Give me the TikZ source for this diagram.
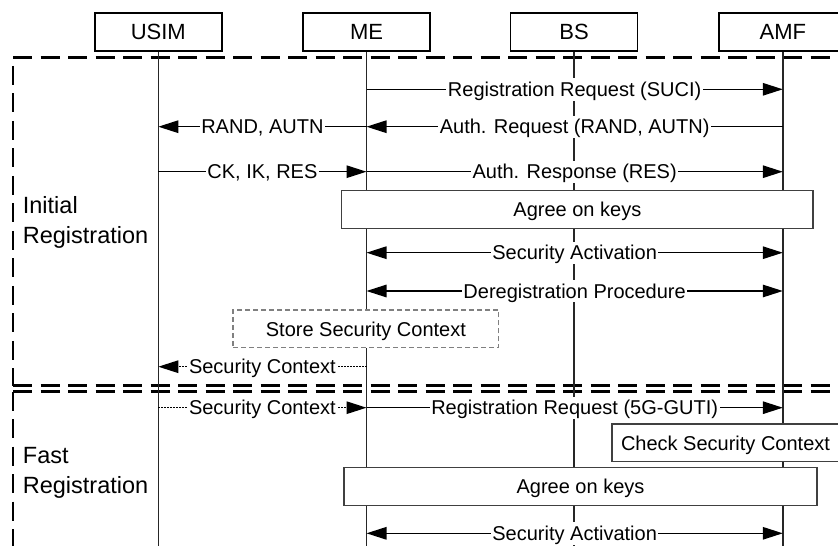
\documentclass[tikz,border=0pt]{standalone}
\usepackage{fontspec}
\setmainfont{Liberation Sans}
\usetikzlibrary{arrows.meta}
\begin{document}
\begin{tikzpicture}[x=1pt,y=-1pt,
  actor/.style={draw, line width=1.8pt, minimum width=127pt, minimum height=38pt, inner sep=0pt, fill=white, text height=15.8pt, text depth=0pt, font=\fontsize{22}{26}\selectfont},
  life/.style={line width=1.4pt, draw=black!85},
  region/.style={line width=2.5pt, dash pattern=on 19pt off 8.5pt},
  msg/.style={line width=1.3pt, -{Triangle[length=20pt,width=12.5pt]}},
  dmsg/.style={line width=1.3pt, {Triangle[length=20pt,width=12.5pt]}-{Triangle[length=20pt,width=12.5pt]}},
  dotmsg/.style={msg, dash pattern=on 1.6pt off 1.4pt},
  lbl/.style={fill=white, inner xsep=1.5pt, inner ysep=4pt, text height=14.4pt, text depth=0pt, font=\fontsize{20}{24}\selectfont},
  stepbox/.style={draw=black!75, line width=1.2pt, fill=white, inner sep=0pt, text height=14.4pt, text depth=0pt, font=\fontsize{20}{24}\selectfont},
  storebox/.style={stepbox, draw=black!50, dash pattern=on 5pt off 3pt},
  reglbl/.style={align=left, anchor=north west, inner sep=0pt, font=\fontsize{23.5}{30}\selectfont}
]
\useasboundingbox (0,0) rectangle (838,546);
\clip (0,0) rectangle (838,546);

% regions
\draw[region] (13,57.3) -- (870,57.3);
\draw[region, dash phase=19pt] (13,57.3) -- (13,385.7);
\draw[region] (13,385.7) -- (870,385.7);
\draw[region] (13,391.7) -- (870,391.7);
\draw[region] (13,391.7) -- (13,580);
\node[reglbl] (lblinit) at (22.7,196.7) {Initial\\Registration};
\node[reglbl] (lblfast) at (22.7,446.7) {Fast\\Registration};

% actors
\node[actor] (usim) at (158.3,32) {USIM};
\node[actor] (me) at (366.5,32) {ME};
\node[actor] (bs) at (574,32) {BS};
\node[actor] (amf) at (782.8,32) {AMF};

\coordinate (usimE) at (158.3,560);
\coordinate (meE) at (366.5,560);
\coordinate (bsE) at (574,560);
\coordinate (amfE) at (782.8,560);
\draw[life] (usim) -- (usimE);
\draw[life] (me) -- (meE);
\draw[life] (bs) -- (bsE);
\draw[life] (amf) -- (amfE);

% message anchor points
\coordinate (me1) at (366.5,89.3);  \coordinate (amf1) at (782.8,89.3);
\coordinate (usim2) at (158.3,126.7); \coordinate (me2) at (366.5,126.7); \coordinate (amf2) at (782.8,126.7);
\coordinate (usim3) at (158.3,171.7); \coordinate (me3) at (366.5,171.7); \coordinate (amf3) at (782.8,171.7);
\coordinate (me4) at (366.5,252.7); \coordinate (amf4) at (782.8,252.7);
\coordinate (me5) at (366.5,291); \coordinate (amf5) at (782.8,291);
\coordinate (usim6) at (158.3,366.7); \coordinate (me6) at (366.5,366.7);
\coordinate (usim7) at (158.3,407.7); \coordinate (me7) at (366.5,407.7); \coordinate (amf7) at (782.8,407.7);
\coordinate (me8) at (366.5,533.3); \coordinate (amf8) at (782.8,533.3);

% initial registration
\draw[msg] (me1) -- node[lbl] (t1) {Registration Request (SUCI)} (amf1);
\draw[msg] (amf2) -- node[lbl] (t2) {Auth. Request (RAND, AUTN)} (me2);
\draw[msg] (me2) -- node[lbl] (t3) {RAND, AUTN} (usim2);
\draw[msg] (usim3) -- node[lbl] (t4) {CK, IK, RES} (me3);
\draw[msg] (me3) -- node[lbl] (t5) {Auth. Response (RES)} (amf3);
\node[stepbox, minimum width=471.3pt, minimum height=37.6pt] (agree1) at (577.4,209.5) {Agree on keys};
\draw[dmsg] (me4) -- node[lbl] (t6) {Security Activation} (amf4);
\draw[dmsg] (me5) -- node[lbl] (t7) {Deregistration Procedure} (amf5);
\node[storebox, minimum width=265.7pt, minimum height=37.7pt] (store) at (365.9,328.9) {Store Security Context};
\draw[dotmsg] (me6) -- node[lbl] (t8) {Security Context} (usim6);

% fast registration
\draw[dotmsg] (usim7) -- node[lbl] (t9) {Security Context} (me7);
\draw[msg] (me7) -- node[lbl] (t10) {Registration Request (5G-GUTI)} (amf7);
\node[stepbox, minimum width=227pt, minimum height=37.7pt] (check) at (725.5,442.9) {Check Security Context};
\node[stepbox, minimum width=473pt, minimum height=38pt] (agree2) at (580.5,486.7) {Agree on keys};
\draw[dmsg] (me8) -- node[lbl] (t11) {Security Activation} (amf8);
\end{tikzpicture}
\end{document}
